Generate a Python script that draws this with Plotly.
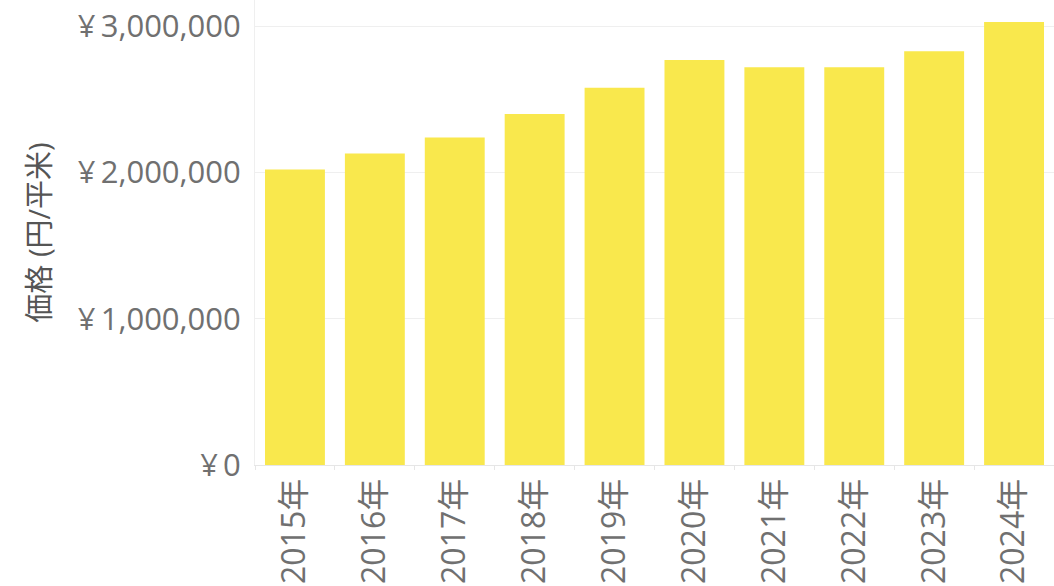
import plotly.graph_objects as go

years = ["2015年", "2016年", "2017年", "2018年", "2019年",
         "2020年", "2021年", "2022年", "2023年", "2024年"]
prices = [2020000, 2130000, 2240000, 2400000, 2580000,
          2770000, 2720000, 2720000, 2830000, 3030000]
y_ticks = [0, 1000000, 2000000, 3000000]
y_labels = ["¥\u20090", "¥\u20091,000,000", "¥\u20092,000,000", "¥\u20093,000,000"]

font_family = "Open Sans, Noto Sans CJK JP"

fig = go.Figure()
fig.add_trace(
    go.Bar(
        x=years,
        y=prices,
        marker=dict(color="#f9e84d", line=dict(width=0)),
        hoverinfo="x+y",
    )
)

fig.update_layout(
    width=1054,
    height=586,
    margin=dict(t=0, b=121, l=255, r=0),
    plot_bgcolor="white",
    paper_bgcolor="white",
    bargap=0.25,
    showlegend=False,
    font=dict(family=font_family, color="#707070", size=31),
    xaxis=dict(
        type="category",
        automargin=False,
        tickangle=-90,
        showgrid=False,
        showline=True,
        linecolor="#e6e6e6",
        linewidth=1,
        ticks="outside",
        tickson="boundaries",
        ticklen=4,
        tickcolor="#e6e6e6",
        tickfont=dict(size=32, color="#707070"),
        title=None,
    ),
    yaxis=dict(
        automargin=False,
        range=[0, 3180000],
        tickvals=y_ticks,
        ticktext=y_labels,
        ticklabeloverflow="allow",
        showgrid=True,
        gridcolor="#efefef",
        gridwidth=1,
        zeroline=False,
        showline=True,
        linecolor="#efefef",
        ticks="",
        ticklabelstandoff=7,
        tickfont=dict(size=31, color="#707070"),
        title=dict(text="価格 (円/平米)", font=dict(size=29, color="#555555"), standoff=18),
    ),
)

# drop the default 8px page margin so the figure fills the window
fig.write_html(
    "out.html",
    config={"displayModeBar": False},
    post_script="document.body.style.margin='0';document.body.style.overflow='hidden';",
)
